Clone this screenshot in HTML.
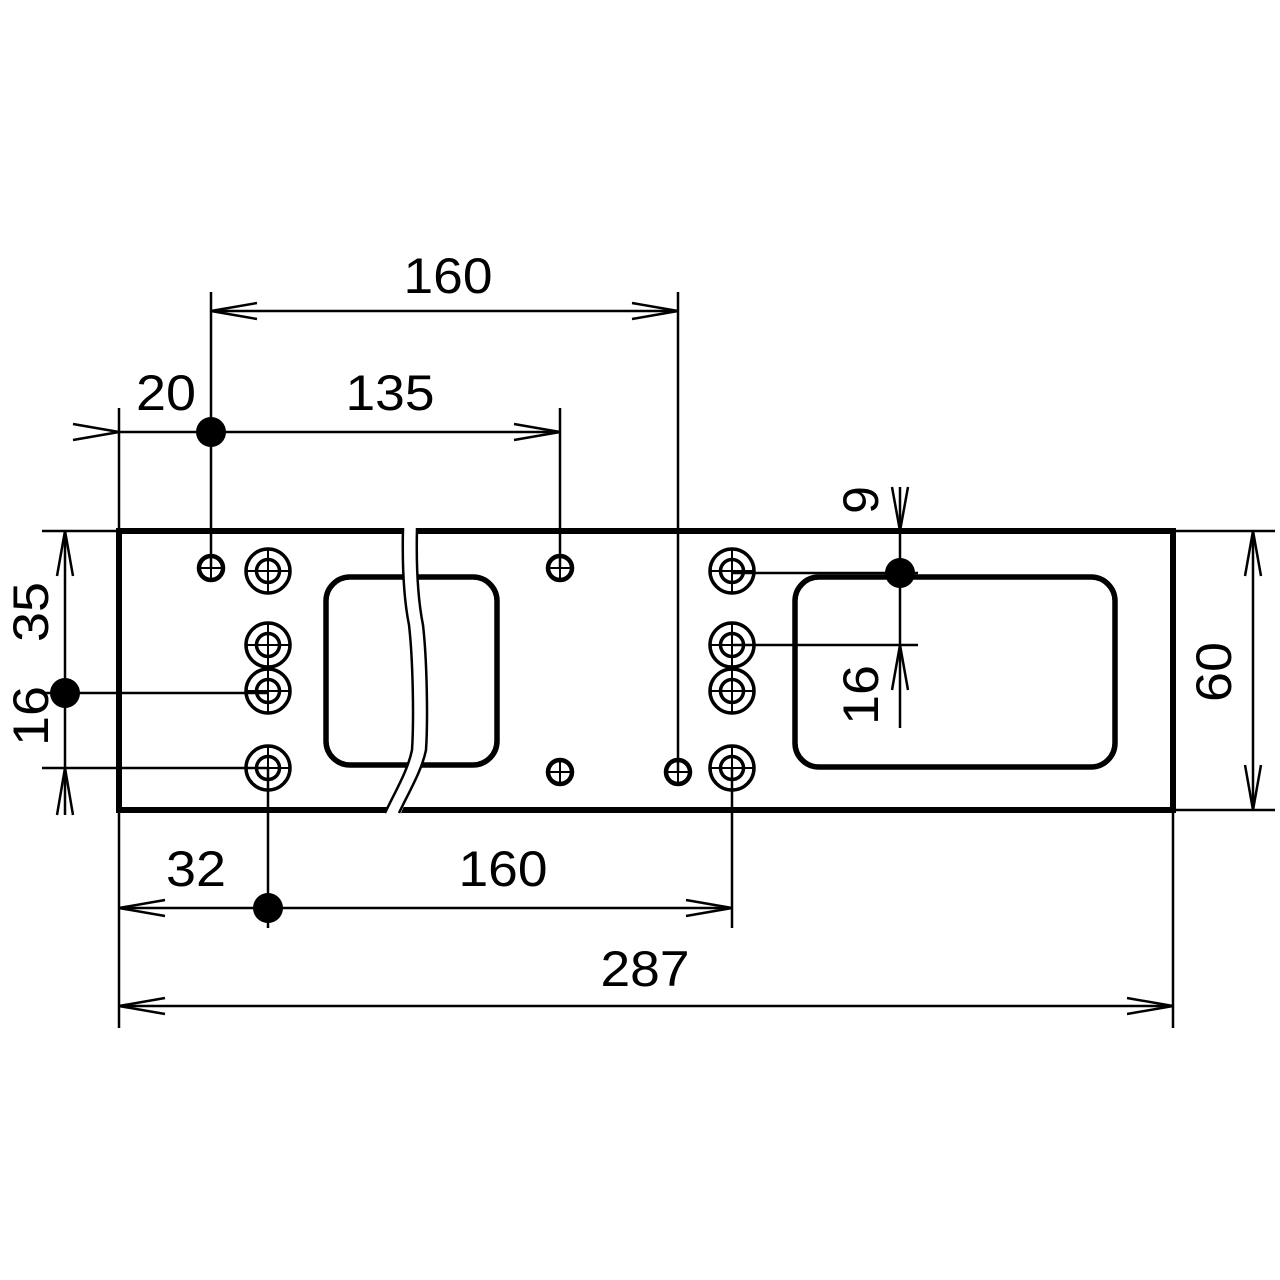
<!DOCTYPE html>
<html><head><meta charset="utf-8"><style>html,body{margin:0;padding:0;background:#fff}svg{display:block}</style></head>
<body>
<svg width="1280" height="1280" viewBox="0 0 1280 1280" xmlns="http://www.w3.org/2000/svg">
<defs>
<g id="cs"><circle r="22" fill="none" stroke="#000" stroke-width="3.5"/><circle r="11.5" fill="none" stroke="#000" stroke-width="3.5"/><line x1="-22" y1="0" x2="22" y2="0" stroke="#000" stroke-width="2"/><line x1="0" y1="-22" x2="0" y2="22" stroke="#000" stroke-width="2"/></g>
<g id="sh"><circle r="12" fill="none" stroke="#000" stroke-width="4.5"/><line x1="-12" y1="0" x2="12" y2="0" stroke="#000" stroke-width="2"/><line x1="0" y1="-12" x2="0" y2="12" stroke="#000" stroke-width="2"/></g>
</defs>
<g stroke="#000" stroke-width="2.5" fill="none">
<line x1="211" y1="292" x2="211" y2="568"/><line x1="678" y1="292" x2="678" y2="772"/>
<line x1="211" y1="311" x2="678" y2="311"/>
<polyline points="257,303 211,311 257,319"/><polyline points="632,303 678,311 632,319"/>
<line x1="119" y1="408" x2="119" y2="531"/><line x1="560" y1="408" x2="560" y2="568"/>
<line x1="119" y1="432" x2="560" y2="432"/>
<polyline points="73,424 119,432 73,440"/><polyline points="514,424 560,432 514,440"/>
<line x1="900" y1="487" x2="900" y2="728"/>
<line x1="732" y1="573" x2="918" y2="573"/><line x1="732" y1="645" x2="918" y2="645"/>
<polyline points="892,487 900,531 908,487"/><polyline points="892,690 900,645 908,690"/>
<line x1="42" y1="531" x2="119" y2="531"/><line x1="42" y1="693" x2="268" y2="693"/><line x1="42" y1="768" x2="268" y2="768"/>
<line x1="65" y1="531" x2="65" y2="815"/>
<polyline points="57,576 65,531 73,576"/><polyline points="57,815 65,768 73,815"/>
<line x1="1173" y1="531" x2="1275" y2="531"/><line x1="1173" y1="810" x2="1275" y2="810"/>
<line x1="1253" y1="531" x2="1253" y2="810"/>
<polyline points="1245,576 1253,531 1261,576"/><polyline points="1245,765 1253,810 1261,765"/>
<line x1="268" y1="768" x2="268" y2="928"/><line x1="732" y1="768" x2="732" y2="928"/>
<line x1="119" y1="908" x2="732" y2="908"/>
<polyline points="165,900 119,908 165,916"/><polyline points="686,900 732,908 686,916"/>
<line x1="119" y1="810" x2="119" y2="1028"/><line x1="1173" y1="810" x2="1173" y2="1028"/>
<line x1="119" y1="1006" x2="1173" y2="1006"/>
<polyline points="165,998 119,1006 165,1014"/><polyline points="1127,998 1173,1006 1127,1014"/>
</g>
<g stroke="#000" stroke-width="6" fill="none" stroke-linejoin="miter">
<polyline points="403,531 119,531 119,810 387,810"/>
<polyline points="417,531 1173,531 1173,810 401,810"/>
<rect x="326" y="577" width="171" height="188" rx="24" stroke-width="5.5"/>
<rect x="795" y="577" width="320" height="190" rx="24" stroke-width="5.5"/>
</g>
<path d="M403,528 C402,570 404,600 409,625 C413,660 414,720 412,750 C408,770 396,790 386,813 L401,813 C411,790 423,770 427,750 C429,720 428,660 424,625 C418,600 416,570 417,528 Z" fill="#fff" stroke="none"/>
<g stroke="#000" stroke-width="2.5" fill="none">
<path d="M403,528 C402,570 404,600 409,625 C413,660 414,720 412,750 C408,770 396,790 385,813"/>
<path d="M417,528 C416,570 418,600 423,625 C427,660 428,720 426,750 C422,770 410,790 399,813"/>
</g>
<use href="#cs" x="268" y="571"/><use href="#cs" x="268" y="645"/><use href="#cs" x="268" y="691"/><use href="#cs" x="268" y="768"/>
<use href="#cs" x="732" y="571"/><use href="#cs" x="732" y="645"/><use href="#cs" x="732" y="691"/><use href="#cs" x="732" y="768"/>
<use href="#sh" x="211" y="568"/><use href="#sh" x="560" y="568"/><use href="#sh" x="560" y="772"/><use href="#sh" x="678" y="772"/>
<g fill="#000"><circle cx="211" cy="432" r="15"/><circle cx="900" cy="573" r="15"/><circle cx="65" cy="693" r="15"/><circle cx="268" cy="908" r="15"/></g>
<g font-family="Liberation Sans, sans-serif" font-size="50" fill="#000" text-anchor="middle">
<text x="448" y="293" textLength="89" lengthAdjust="spacingAndGlyphs">160</text>
<text x="166" y="410" textLength="60" lengthAdjust="spacingAndGlyphs">20</text>
<text x="390" y="410" textLength="89" lengthAdjust="spacingAndGlyphs">135</text>
<text x="196" y="886" textLength="60" lengthAdjust="spacingAndGlyphs">32</text>
<text x="503" y="886" textLength="89" lengthAdjust="spacingAndGlyphs">160</text>
<text x="645" y="986" textLength="89" lengthAdjust="spacingAndGlyphs">287</text>
<text transform="translate(878,500) rotate(-90)">9</text>
<text transform="translate(878,695) rotate(-90)" textLength="60" lengthAdjust="spacingAndGlyphs">16</text>
<text transform="translate(48,612) rotate(-90)" textLength="60" lengthAdjust="spacingAndGlyphs">35</text>
<text transform="translate(48,716) rotate(-90)" textLength="60" lengthAdjust="spacingAndGlyphs">16</text>
<text transform="translate(1231,672) rotate(-90)" textLength="60" lengthAdjust="spacingAndGlyphs">60</text>
</g>
</svg>
</body></html>
